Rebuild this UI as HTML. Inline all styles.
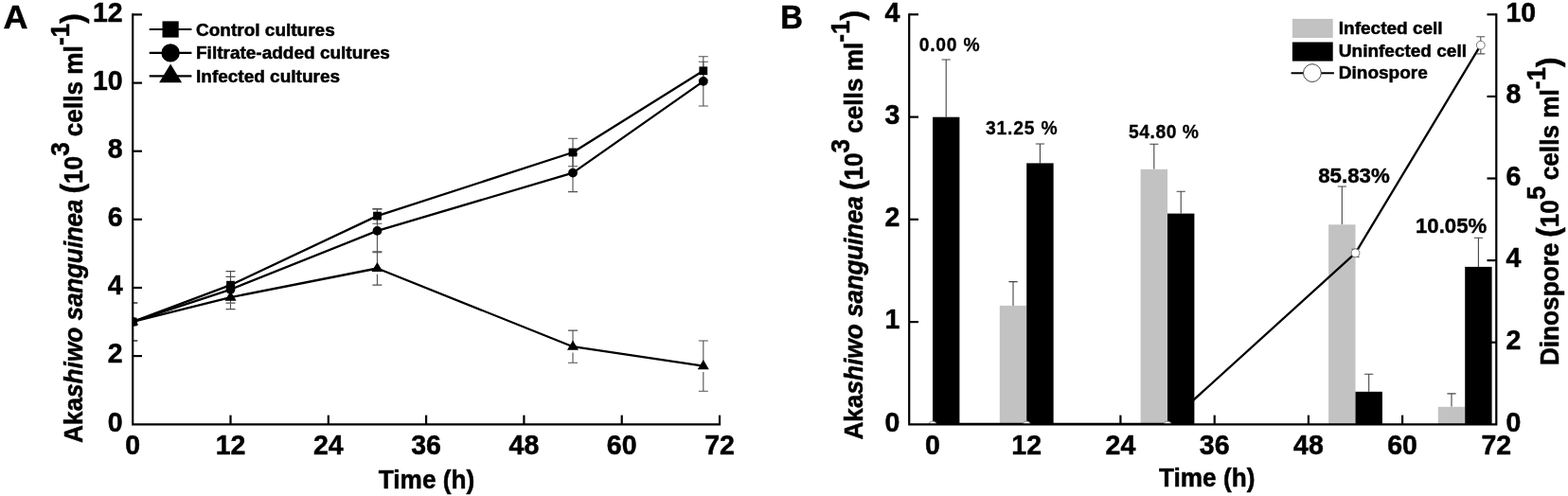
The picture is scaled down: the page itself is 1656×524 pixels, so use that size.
<!DOCTYPE html>
<html lang="en">
<head>
<meta charset="utf-8">
<title>Akashiwo sanguinea infection figure</title>
<style>
html,body{margin:0;padding:0;background:#fff;}
body{width:1656px;height:524px;overflow:hidden;}
svg{display:block;}
</style>
</head>
<body>
<svg width="1656" height="524" viewBox="0 0 1656 524" font-family='"Liberation Sans", Arial, Helvetica, sans-serif' font-weight="bold" fill="#000">
<style>text{stroke:#000;stroke-width:0.5px;stroke-linejoin:round}</style>
<rect x="0" y="0" width="1656" height="524" fill="#fff"/>
<g id="panelA">
<text transform="translate(3.6 30) scale(1 0.975)" font-size="36">A</text>
<clipPath id="clipA"><rect x="140.2" y="0" width="700" height="448.3"/></clipPath>
<g clip-path="url(#clipA)">
<path d="M140.2 320.0V360.0M135.2 320.0H145.2M135.2 360.0H145.2" stroke="#505050" stroke-width="1.1" fill="none"/>
<path d="M243.5 286.6V315.8M238.5 286.6H248.5M238.5 315.8H248.5" stroke="#505050" stroke-width="1.1" fill="none"/>
<path d="M398.4 220.6V236.2M393.4 220.6H403.4M393.4 236.2H403.4" stroke="#505050" stroke-width="1.1" fill="none"/>
<path d="M605.0 146.3V175.7M600.0 146.3H610.0M600.0 175.7H610.0" stroke="#505050" stroke-width="1.1" fill="none"/>
<path d="M742.8 65.3V84.3M737.8 65.3H747.8M737.8 84.3H747.8" stroke="#505050" stroke-width="1.1" fill="none"/>
<path d="M140.2 320.0V360.0M135.2 320.0H145.2M135.2 360.0H145.2" stroke="#505050" stroke-width="1.1" fill="none"/>
<path d="M243.5 292.4V320.1M238.5 292.4H248.5M238.5 320.1H248.5" stroke="#505050" stroke-width="1.1" fill="none"/>
<path d="M398.4 221.0V266.8M393.4 221.0H403.4M393.4 266.8H403.4" stroke="#505050" stroke-width="1.1" fill="none"/>
<path d="M605.0 162.6V202.6M600.0 162.6H610.0M600.0 202.6H610.0" stroke="#505050" stroke-width="1.1" fill="none"/>
<path d="M742.8 59.7V112.0M737.8 59.7H747.8M737.8 112.0H747.8" stroke="#505050" stroke-width="1.1" fill="none"/>
<path d="M140.2 320.0V335.0M135.2 320.0H145.2" stroke="#505050" stroke-width="1.1" fill="none"/>
<path d="M140.2 346.3V360.0M135.2 360.0H145.2" stroke="#505050" stroke-width="1.1" fill="none"/>
<path d="M243.5 301.6V309.1M238.5 301.6H248.5" stroke="#505050" stroke-width="1.1" fill="none"/>
<path d="M243.5 320.4V326.6M238.5 326.6H248.5" stroke="#505050" stroke-width="1.1" fill="none"/>
<path d="M398.4 265.9V278.5M393.4 265.9H403.4" stroke="#505050" stroke-width="1.1" fill="none"/>
<path d="M398.4 289.8V301.1M393.4 301.1H403.4" stroke="#505050" stroke-width="1.1" fill="none"/>
<path d="M605.0 349.1V361.2M600.0 349.1H610.0" stroke="#505050" stroke-width="1.1" fill="none"/>
<path d="M605.0 372.5V383.3M600.0 383.3H610.0" stroke="#505050" stroke-width="1.1" fill="none"/>
<path d="M742.8 360.0V381.6M737.8 360.0H747.8" stroke="#505050" stroke-width="1.1" fill="none"/>
<path d="M742.8 392.9V413.2M737.8 413.2H747.8" stroke="#505050" stroke-width="1.1" fill="none"/>
<polyline points="140.2,340.0 243.5,301.2 398.4,228.1 605.0,161.0 742.8,74.8" fill="none" stroke="#000" stroke-width="2.3" stroke-linejoin="round"/>
<polyline points="140.2,340.0 243.5,305.8 398.4,243.9 605.0,182.6 742.8,85.9" fill="none" stroke="#000" stroke-width="2.3" stroke-linejoin="round"/>
<polyline points="140.2,340.0 243.5,314.1 398.4,283.5 605.0,366.2 742.8,386.6" fill="none" stroke="#000" stroke-width="2.3" stroke-linejoin="round"/>
<rect x="135.8" y="335.6" width="8.8" height="8.8"/>
<rect x="239.1" y="296.8" width="8.8" height="8.8"/>
<rect x="394.1" y="223.7" width="8.8" height="8.8"/>
<rect x="600.6" y="156.6" width="8.8" height="8.8"/>
<rect x="738.4" y="70.4" width="8.8" height="8.8"/>
<circle cx="140.2" cy="340.0" r="4.9"/>
<circle cx="243.5" cy="305.8" r="4.9"/>
<circle cx="398.4" cy="243.9" r="4.9"/>
<circle cx="605.0" cy="182.6" r="4.9"/>
<circle cx="742.8" cy="85.9" r="4.9"/>
<path d="M140.2 333.4L146.2 343.6H134.2Z"/>
<path d="M243.5 307.5L249.5 317.7H237.5Z"/>
<path d="M398.4 276.9L404.4 287.1H392.4Z"/>
<path d="M605.0 359.6L611.0 369.8H599.0Z"/>
<path d="M742.8 380.0L748.8 390.2H736.8Z"/>
</g>
<path d="M140.2 14.3V448.3H761.1" fill="none" stroke="#000" stroke-width="2.2" stroke-linejoin="miter"/>
<text transform="translate(129.6 455.6) scale(1 1.045)" font-size="28.5" text-anchor="end">0</text>
<path d="M140.2 376.1H150.0" stroke="#000" stroke-width="2.2"/>
<text transform="translate(129.6 383.4) scale(1 1.045)" font-size="28.5" text-anchor="end">2</text>
<path d="M140.2 304.0H150.0" stroke="#000" stroke-width="2.2"/>
<text transform="translate(129.6 311.3) scale(1 1.045)" font-size="28.5" text-anchor="end">4</text>
<path d="M140.2 231.8H150.0" stroke="#000" stroke-width="2.2"/>
<text transform="translate(129.6 239.2) scale(1 1.045)" font-size="28.5" text-anchor="end">6</text>
<path d="M140.2 159.7H150.0" stroke="#000" stroke-width="2.2"/>
<text transform="translate(129.6 167.0) scale(1 1.045)" font-size="28.5" text-anchor="end">8</text>
<path d="M140.2 87.6H150.0" stroke="#000" stroke-width="2.2"/>
<text transform="translate(129.6 94.9) scale(1 1.045)" font-size="28.5" text-anchor="end">10</text>
<path d="M140.2 15.4H150.0" stroke="#000" stroke-width="2.2"/>
<text transform="translate(129.6 22.7) scale(1 1.045)" font-size="28.5" text-anchor="end">12</text>
<text transform="translate(140.2 480.2) scale(1 1.045)" font-size="28.5" text-anchor="middle">0</text>
<path d="M243.5 448.3V438.6" stroke="#000" stroke-width="2.2"/>
<text transform="translate(243.5 480.2) scale(1 1.045)" font-size="28.5" text-anchor="middle">12</text>
<path d="M346.8 448.3V438.6" stroke="#000" stroke-width="2.2"/>
<text transform="translate(346.8 480.2) scale(1 1.045)" font-size="28.5" text-anchor="middle">24</text>
<path d="M450.1 448.3V438.6" stroke="#000" stroke-width="2.2"/>
<text transform="translate(450.1 480.2) scale(1 1.045)" font-size="28.5" text-anchor="middle">36</text>
<path d="M553.4 448.3V438.6" stroke="#000" stroke-width="2.2"/>
<text transform="translate(553.4 480.2) scale(1 1.045)" font-size="28.5" text-anchor="middle">48</text>
<path d="M656.7 448.3V438.6" stroke="#000" stroke-width="2.2"/>
<text transform="translate(656.7 480.2) scale(1 1.045)" font-size="28.5" text-anchor="middle">60</text>
<path d="M760.0 448.3V438.6" stroke="#000" stroke-width="2.2"/>
<text transform="translate(760.0 480.2) scale(1 1.045)" font-size="28.5" text-anchor="middle">72</text>
<text transform="translate(450.5 516.1) scale(1 1.045)" font-size="26.2" text-anchor="middle">Time (h)</text>
<text transform="translate(87.0 468.0) rotate(-90) scale(1 1.045)" font-size="26.2" x="0" y="0">Aka<tspan font-style="italic">shiwo <tspan letter-spacing="-0.2">sanguinea</tspan></tspan><tspan letter-spacing="-0.2"> </tspan><tspan font-size="31.5" dx="-0.8">(</tspan><tspan>10</tspan><tspan dy="-13.8">3</tspan><tspan dy="13.8" dx="-1.2"> cells ml</tspan><tspan dy="-13.8">-1</tspan><tspan font-size="31.5" dy="13.8">)</tspan></text>
<path d="M157.7 31.0H202.4" stroke="#000" stroke-width="2.1"/>
<rect x="171.5" y="22.4" width="17.2" height="17.2"/>
<text transform="translate(207.0 37.8) scale(1 1.0)" font-size="19">Control cultures</text>
<path d="M157.7 55.9H202.4" stroke="#000" stroke-width="2.1"/>
<circle cx="180.1" cy="55.9" r="9.7"/>
<text transform="translate(207.0 61.9) scale(1 1.0)" font-size="19">Filtrate-added cultures</text>
<path d="M157.7 80.4H202.4" stroke="#000" stroke-width="2.1"/>
<path d="M180.1 67.4L192.1 87.3H168.1Z"/>
<text transform="translate(207.0 86.8) scale(1 1.0)" font-size="19">Infected cultures</text>
</g>
<g id="panelB">
<text transform="translate(824.3 29.8) scale(1 1.07)" font-size="32.8">B</text>
<path d="M999.2 63.0V123.7M994.6 63.0H1003.8" stroke="#444" stroke-width="1.1" fill="none"/>
<rect x="985.0" y="123.7" width="28.4" height="324.6" fill="#000"/>
<path d="M1070.0 297.6V322.9M1065.4 297.6H1074.6" stroke="#444" stroke-width="1.1" fill="none"/>
<rect x="1055.8" y="322.9" width="28.4" height="125.4" fill="#c2c2c2"/>
<path d="M1098.4 152.0V172.4M1093.8 152.0H1103.0" stroke="#444" stroke-width="1.1" fill="none"/>
<rect x="1084.2" y="172.4" width="28.4" height="275.9" fill="#000"/>
<path d="M1218.8 152.3V178.8M1214.2 152.3H1223.4" stroke="#444" stroke-width="1.1" fill="none"/>
<rect x="1204.6" y="178.8" width="28.4" height="269.5" fill="#c2c2c2"/>
<path d="M1247.2 202.3V225.6M1242.6 202.3H1251.8" stroke="#444" stroke-width="1.1" fill="none"/>
<rect x="1233.0" y="225.6" width="28.4" height="222.7" fill="#000"/>
<path d="M1417.3 197.0V237.3M1412.7 197.0H1421.9" stroke="#444" stroke-width="1.1" fill="none"/>
<rect x="1403.1" y="237.3" width="28.4" height="211.0" fill="#c2c2c2"/>
<path d="M1445.7 395.3V413.8M1441.1 395.3H1450.3" stroke="#444" stroke-width="1.1" fill="none"/>
<rect x="1431.5" y="413.8" width="28.4" height="34.5" fill="#000"/>
<path d="M1533.0 415.9V429.8M1528.4 415.9H1537.6" stroke="#444" stroke-width="1.1" fill="none"/>
<rect x="1518.8" y="429.8" width="28.4" height="18.5" fill="#c2c2c2"/>
<path d="M1561.4 251.2V281.9M1556.8 251.2H1566.0" stroke="#444" stroke-width="1.1" fill="none"/>
<rect x="1547.2" y="281.9" width="28.4" height="166.4" fill="#000"/>
<clipPath id="clipB"><rect x="960.2" y="0" width="620.0999999999999" height="448.3"/></clipPath>
<g clip-path="url(#clipB)">
<polyline points="985.0,448.0 1084.2,448.0 1233.0,447.6 1431.5,267.3 1563.8,47.7" fill="none" stroke="#000" stroke-width="2.3" stroke-linejoin="round"/>
<path d="M1563.8 38.8V56.9M1559.3 38.8H1568.3M1559.3 56.9H1568.3" stroke="#555" stroke-width="1.1" fill="none"/>
<path d="M1431.5 263.2V271.4M1427.5 263.2H1435.5M1427.5 271.4H1435.5" stroke="#555" stroke-width="1.1" fill="none"/>
<circle cx="985.0" cy="449.4" r="4.4" fill="#fff" stroke="#777" stroke-width="1"/>
<circle cx="1084.2" cy="449.4" r="4.4" fill="#fff" stroke="#777" stroke-width="1"/>
<circle cx="1233.0" cy="449.4" r="4.4" fill="#fff" stroke="#777" stroke-width="1"/>
<circle cx="1431.5" cy="267.3" r="4.4" fill="#fff" stroke="#777" stroke-width="1"/>
<circle cx="1563.8" cy="47.7" r="4.4" fill="#fff" stroke="#777" stroke-width="1"/>
</g>
<path d="M960.2 14.2V448.3H1580.3V14.2" fill="none" stroke="#000" stroke-width="2.2" stroke-linejoin="miter"/>
<text transform="translate(950.3 455.6) scale(1 1.045)" font-size="28.5" text-anchor="end">0</text>
<path d="M960.2 340.1H970.0" stroke="#000" stroke-width="2.2"/>
<text transform="translate(950.3 347.4) scale(1 1.045)" font-size="28.5" text-anchor="end">1</text>
<path d="M960.2 231.8H970.0" stroke="#000" stroke-width="2.2"/>
<text transform="translate(950.3 239.1) scale(1 1.045)" font-size="28.5" text-anchor="end">2</text>
<path d="M960.2 123.6H970.0" stroke="#000" stroke-width="2.2"/>
<text transform="translate(950.3 130.9) scale(1 1.045)" font-size="28.5" text-anchor="end">3</text>
<path d="M960.2 15.3H970.0" stroke="#000" stroke-width="2.2"/>
<text transform="translate(950.3 22.6) scale(1 1.045)" font-size="28.5" text-anchor="end">4</text>
<text transform="translate(1590.4 455.6) scale(1 1.045)" font-size="28.5">0</text>
<path d="M1580.3 361.7H1570.5" stroke="#000" stroke-width="2.2"/>
<text transform="translate(1590.4 369.0) scale(1 1.045)" font-size="28.5">2</text>
<path d="M1580.3 275.1H1570.5" stroke="#000" stroke-width="2.2"/>
<text transform="translate(1590.4 282.4) scale(1 1.045)" font-size="28.5">4</text>
<path d="M1580.3 188.5H1570.5" stroke="#000" stroke-width="2.2"/>
<text transform="translate(1590.4 195.8) scale(1 1.045)" font-size="28.5">6</text>
<path d="M1580.3 101.9H1570.5" stroke="#000" stroke-width="2.2"/>
<text transform="translate(1590.4 109.2) scale(1 1.045)" font-size="28.5">8</text>
<path d="M1580.3 15.3H1570.5" stroke="#000" stroke-width="2.2"/>
<text transform="translate(1590.4 22.6) scale(1 1.045)" font-size="28.5">10</text>
<text transform="translate(985.0 480.2) scale(1 1.045)" font-size="28.5" text-anchor="middle">0</text>
<text transform="translate(1084.2 480.2) scale(1 1.045)" font-size="28.5" text-anchor="middle">12</text>
<path d="M1183.4 448.3V438.6" stroke="#000" stroke-width="2.2"/>
<text transform="translate(1183.4 480.2) scale(1 1.045)" font-size="28.5" text-anchor="middle">24</text>
<path d="M1282.7 448.3V438.6" stroke="#000" stroke-width="2.2"/>
<text transform="translate(1282.7 480.2) scale(1 1.045)" font-size="28.5" text-anchor="middle">36</text>
<path d="M1381.9 448.3V438.6" stroke="#000" stroke-width="2.2"/>
<text transform="translate(1381.9 480.2) scale(1 1.045)" font-size="28.5" text-anchor="middle">48</text>
<path d="M1481.1 448.3V438.6" stroke="#000" stroke-width="2.2"/>
<text transform="translate(1481.1 480.2) scale(1 1.045)" font-size="28.5" text-anchor="middle">60</text>
<text transform="translate(1580.3 480.2) scale(1 1.045)" font-size="28.5" text-anchor="middle">72</text>
<text transform="translate(1274.7 513.8) scale(1 1.045)" font-size="26.2" text-anchor="middle">Time (h)</text>
<text transform="translate(911.0 464.6) rotate(-90) scale(1 1.045)" font-size="26.2" x="0" y="0">Aka<tspan font-style="italic">shiwo <tspan letter-spacing="-0.2">sanguinea</tspan></tspan><tspan letter-spacing="-0.2"> </tspan><tspan font-size="31.5" dx="-0.8">(</tspan><tspan>10</tspan><tspan dy="-13.8">3</tspan><tspan dy="13.8" dx="-1.2"> cells ml</tspan><tspan dy="-13.8">-1</tspan><tspan font-size="31.5" dy="13.8">)</tspan></text>
<text transform="translate(1646.3 386.1) rotate(-90) scale(1 1.045)" font-size="26.2" x="0" y="0">Dinospore<tspan letter-spacing="-0.2"> </tspan><tspan font-size="31.5" dx="-1.2">(</tspan><tspan>10</tspan><tspan dy="-13.8">5</tspan><tspan dy="13.8" dx="-1.0"> cells ml</tspan><tspan dy="-13.8">-1</tspan><tspan font-size="31.5" dy="13.8">)</tspan></text>
<text transform="translate(970.7 53.8) scale(1 1.045)" font-size="19.3" textLength="63.9" lengthAdjust="spacing" style="stroke-width:0.3px">0.00 %</text>
<text transform="translate(1040.9 142.4) scale(1 1.045)" font-size="19.3" textLength="75.7" lengthAdjust="spacing" style="stroke-width:0.3px">31.25 %</text>
<text transform="translate(1192.0 146.0) scale(1 1.045)" font-size="19.3" textLength="74.0" lengthAdjust="spacing" style="stroke-width:0.3px">54.80 %</text>
<text transform="translate(1392.2 193.2) scale(1 1.045)" font-size="20.9" textLength="75.5" lengthAdjust="spacingAndGlyphs" style="stroke-width:0.4px">85.83%</text>
<text transform="translate(1495.0 246.2) scale(1 1.045)" font-size="20.9" textLength="75.2" lengthAdjust="spacingAndGlyphs" style="stroke-width:0.4px">10.05%</text>
<rect x="1364.9" y="19.9" width="42.8" height="20.1" fill="#c2c2c2"/>
<rect x="1364.9" y="44.5" width="42.8" height="20.1" fill="#000"/>
<path d="M1363.6 77.2H1408.9" stroke="#000" stroke-width="2.1"/>
<circle cx="1385.9" cy="77.1" r="9.4" fill="#fff" stroke="#444" stroke-width="1"/>
<text transform="translate(1413.8 36.2) scale(1 1.0)" font-size="19">Infected cell</text>
<text transform="translate(1413.8 60.3) scale(1 1.0)" font-size="19">Uninfected cell</text>
<text transform="translate(1413.8 83.3) scale(1 1.0)" font-size="19">Dinospore</text>
</g>
</svg>
</body>
</html>
